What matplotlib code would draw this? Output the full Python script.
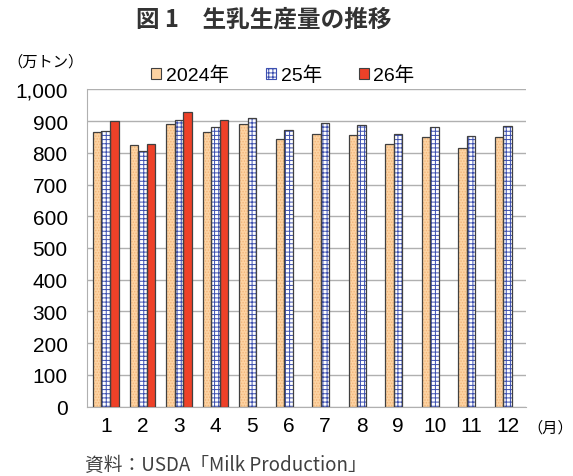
"""
monthly milk production, 2024 / 25 / 26 grouped bars
"""

import numpy as np
import matplotlib.pyplot as plt
from matplotlib.patches import Patch
from matplotlib.ticker import FuncFormatter

plt.rcParams['font.family'] = ['Liberation Sans', 'Noto Sans CJK JP']
plt.rcParams['hatch.linewidth'] = 0.7

#data (万トン)
months = [1, 2, 3, 4, 5, 6, 7, 8, 9, 10, 11, 12]
y2024 = [865, 824, 892, 865, 891, 844, 858, 857, 827, 851, 815, 850]
y2025 = [870, 806, 903, 881, 911, 873, 894, 887, 859, 883, 853, 885]
y2026 = [901, 827, 928, 905]
labels = ['2024年', '25年', '26年']

fig = plt.figure(figsize=(5.73, 4.77), dpi=100)
ax = fig.add_axes([0.152, 0.1455, 0.766, 0.665])

x = np.array(months)
w = 0.233
edge = '#404040'

#2024: light orange with faint dots
ax.bar(x - w, y2024, w, color='#FDD3A2', edgecolor='#F2B57A', hatch='......', linewidth=0, zorder=3)
ax.bar(x - w, y2024, w, fill=False, edgecolor=edge, linewidth=0.9, zorder=4)
#25: white with blue grid
ax.bar(x, y2025, w, color='white', edgecolor='#3C4FB0', hatch='++++', linewidth=0, zorder=3)
ax.bar(x, y2025, w, fill=False, edgecolor=edge, linewidth=0.9, zorder=4)
#26: red
x26 = x[:len(y2026)]
ax.bar(x26 + w, y2026, w, color='#EE4128', edgecolor=edge, linewidth=0.9, zorder=3)

ax.set_xlim(0.49, 12.5)
ax.set_ylim(0, 1000)
ax.set_yticks(range(0, 1001, 100))
ax.yaxis.set_major_formatter(FuncFormatter(lambda v, p: f'{int(v):,}'))
ax.set_xticks(months)
ax.tick_params(length=0, labelsize=15, pad=7)
ax.tick_params(axis='y', pad=14)
ax.grid(axis='y', color='#B0B0B0', linewidth=1.0, zorder=0)
for s in ['top', 'right']:
    ax.spines[s].set_visible(False)
ax.spines['left'].set_color('#B0B0B0')
ax.spines['bottom'].set_color('#B0B0B0')

#legend
handles = [
    Patch(facecolor='#FDD3A2', edgecolor=edge, linewidth=0.8),
    Patch(facecolor='white', edgecolor='#3C4FB0', hatch='++++', linewidth=0.8),
    Patch(facecolor='#EE4128', edgecolor=edge, linewidth=0.8),
]
fig.legend(handles, labels, loc='center', bbox_to_anchor=(0.494, 0.841), ncol=3,
           frameon=False, fontsize=14, handlelength=0.5, handleheight=0.5,
           handletextpad=0.25, columnspacing=1.9)

#texts
fig.text(0.461, 0.958, '図 1　生乳生産量の推移', ha='center', va='center',
         fontsize=17, fontweight='bold', color='#333333', family=['Noto Sans CJK JP'])
fig.text(0.012, 0.87, '（万トン）', ha='left', va='center', fontsize=11,
         family=['Noto Sans CJK JP'])
fig.text(0.92, 0.103, '（月）', ha='left', va='center', fontsize=11,
         family=['Noto Sans CJK JP'])
fig.text(0.148, 0.025, '資料：USDA「Milk Production」', ha='left', va='center',
         fontsize=13.5, color='#404040', family=['Noto Sans CJK JP'])

plt.savefig('out.png', dpi=100)
